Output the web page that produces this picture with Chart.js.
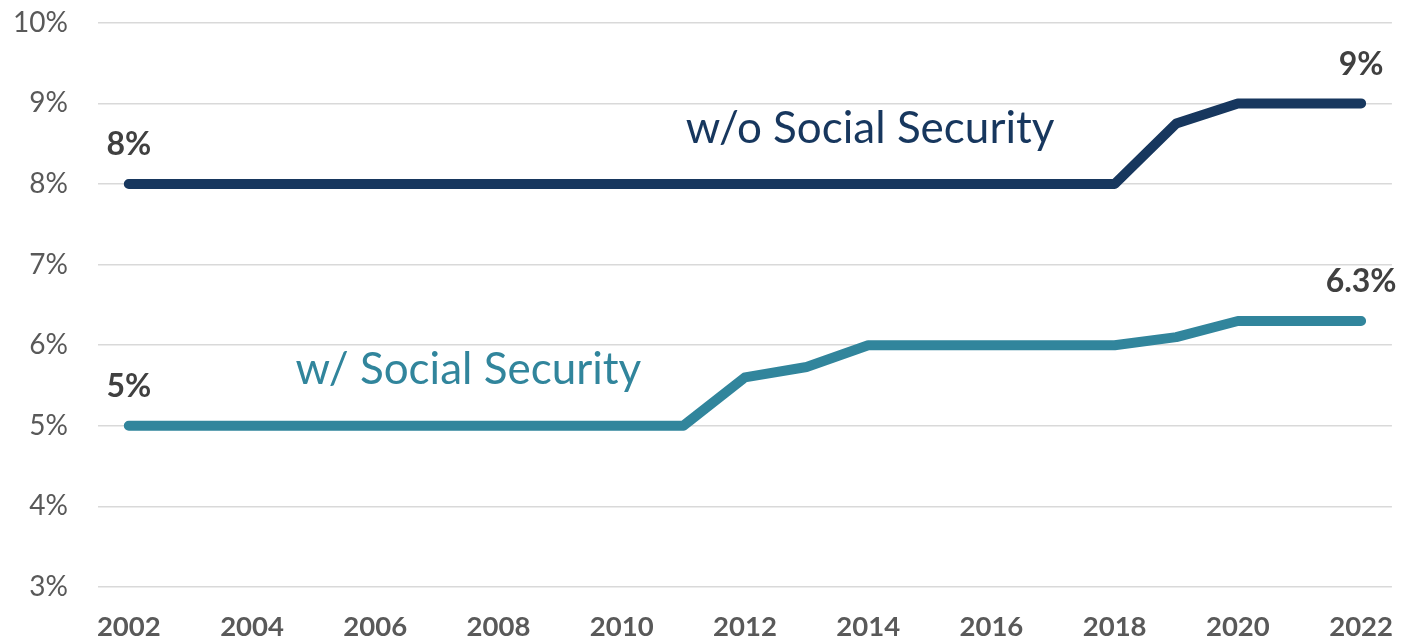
<!DOCTYPE html>
<html>
<head>
<meta charset="utf-8">
<script src="https://cdn.jsdelivr.net/npm/chart.js@4/dist/chart.umd.min.js"></script>
<style>
  html, body { margin: 0; padding: 0; background: #ffffff; overflow: hidden; }
  #wrap { position: relative; width: 1402px; height: 643px; overflow: hidden; }
  #chart { position: absolute; left: 0; top: -24px; }
</style>
</head>
<body>
<div id="wrap"><canvas id="chart" width="1417" height="667"></canvas></div>
<script>
// Years on the x axis
const years = [2002, 2003, 2004, 2005, 2006, 2007, 2008, 2009, 2010, 2011, 2012,
               2013, 2014, 2015, 2016, 2017, 2018, 2019, 2020, 2021, 2022];

// Rate without Social Security (%)
const withoutSS = [8, 8, 8, 8, 8, 8, 8, 8, 8, 8, 8,
                   8, 8, 8, 8, 8, 8, 8.75, 9, 9, 9];

// Rate with Social Security (%)
const withSS = [5, 5, 5, 5, 5, 5, 5, 5, 5, 5, 5.6,
                5.73, 6, 6, 6, 6, 6, 6.1, 6.3, 6.3, 6.3];

// Value labels shown at the first and last point of each line
const withoutSSEndLabels = ['8%', '9%'];
const withSSEndLabels = ['5%', '6.3%'];

// Series names written next to each line
const seriesNames = ['w/o Social Security', 'w/ Social Security'];

const NAVY = '#17375e';
const TEAL = '#31859c';
const FONT = 'Lato, "Open Sans", sans-serif';

// Draws the end-point value labels and the series names on the plot
const annotate = {
  id: 'annotate',
  afterDatasetsDraw(chart) {
    const { ctx, scales } = chart;
    const x = scales.x, y = scales.y;
    ctx.save();
    ctx.textAlign = 'center';
    ctx.textBaseline = 'middle';
    ctx.font = 'bold 32px ' + FONT;
    ctx.fillStyle = '#404040';
    const ends = [[withoutSS, withoutSSEndLabels], [withSS, withSSEndLabels]];
    ends.forEach(([vals, labels]) => {
      const last = vals.length - 1;
      ctx.fillText(labels[0], x.getPixelForValue(0), y.getPixelForValue(vals[0]) - 39);
      ctx.fillText(labels[1], x.getPixelForValue(last), y.getPixelForValue(vals[last]) - 39);
    });

    ctx.font = '44px ' + FONT;
    ctx.fillStyle = NAVY;
    ctx.fillText(seriesNames[0], x.getPixelForValue(12.03), y.getPixelForValue(8.69));
    ctx.fillStyle = TEAL;
    ctx.fillText(seriesNames[1], x.getPixelForValue(5.51), y.getPixelForValue(5.69));
    ctx.restore();
  }
};

new Chart(document.getElementById('chart'), {
  type: 'line',
  data: {
    labels: years.map(String),
    datasets: [
      {
        label: seriesNames[0],
        data: withoutSS,
        borderColor: NAVY,
        borderWidth: 10,
        borderCapStyle: 'round',
        borderJoinStyle: 'round',
        pointRadius: 0,
        tension: 0
      },
      {
        label: seriesNames[1],
        data: withSS,
        borderColor: TEAL,
        borderWidth: 10,
        borderCapStyle: 'round',
        borderJoinStyle: 'round',
        pointRadius: 0,
        tension: 0
      }
    ]
  },
  options: {
    responsive: false,
    animation: false,
    layout: { padding: { top: 1, right: 0, left: 0, bottom: 0 } },
    plugins: {
      legend: { display: false },
      tooltip: { enabled: false }
    },
    scales: {
      x: {
        offset: true,
        grid: { display: false, drawTicks: false },
        border: { display: false },
        ticks: {
          autoSkip: false,
          maxRotation: 0,
          padding: 24,
          color: '#595959',
          font: { family: FONT, size: 27.5, weight: 'bold' },
          callback: (v, i) => (i % 2 === 0 ? String(years[i]) : '')
        },
        afterFit: (s) => { s.height = 56; }
      },
      y: {
        min: 3,
        max: 10,
        grid: { color: '#d9d9d9', lineWidth: 1.5, drawTicks: false },
        border: { display: false },
        ticks: {
          stepSize: 1,
          padding: 30,
          color: '#595959',
          font: { family: FONT, size: 28 },
          callback: (v) => v + '%'
        },
        afterFit: (s) => { s.width = 98; }
      }
    }
  },
  plugins: [annotate]
});
</script>
</body>
</html>
